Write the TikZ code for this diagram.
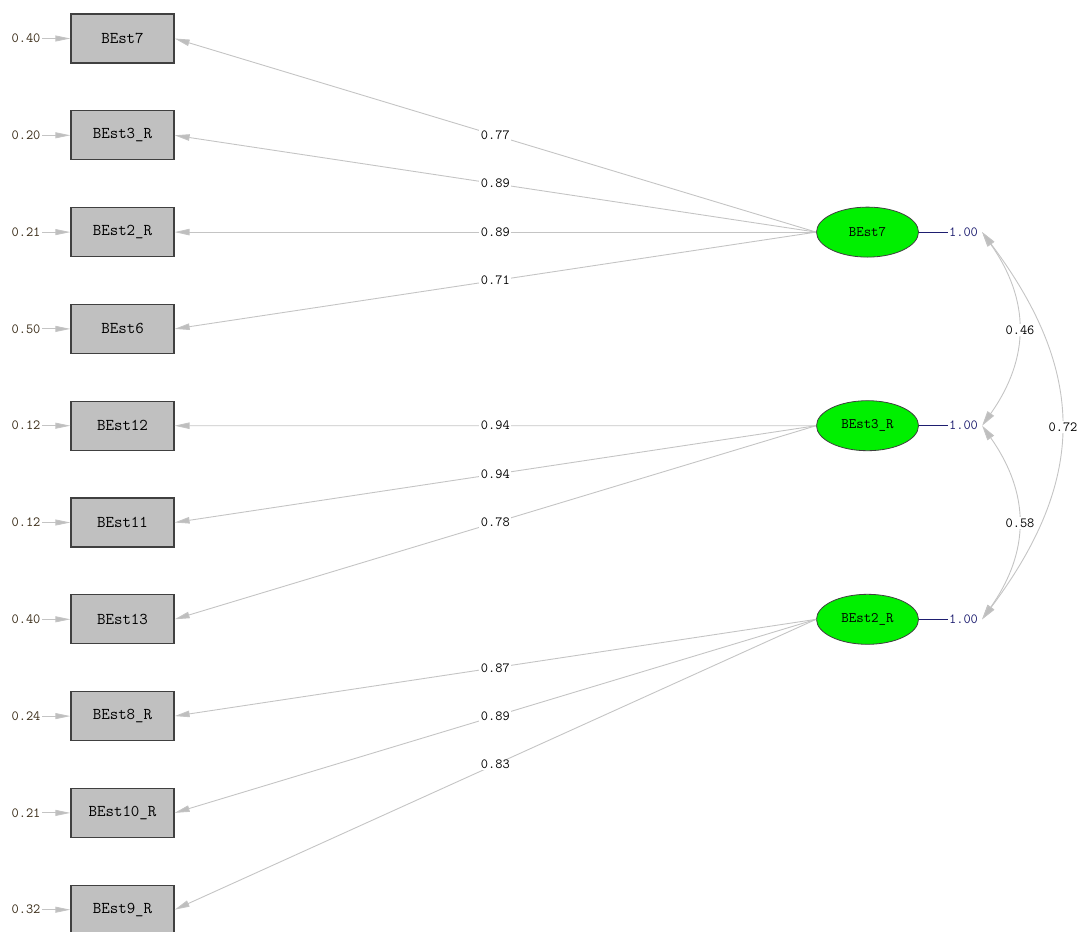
\documentclass[tikz,border=0pt]{standalone}
\usepackage{fontspec}
\usetikzlibrary{arrows.meta,shapes.geometric}
\definecolor{boxgray}{HTML}{C0C0C0}
\definecolor{edgegray}{HTML}{404040}
\definecolor{pathgray}{HTML}{C4C4C4}
\definecolor{tipgray}{HTML}{BEBEBE}
\definecolor{latgreen}{HTML}{00F000}
\definecolor{varnavy}{HTML}{1E1E70}
\definecolor{errbrown}{HTML}{3A2C18}
\tikzset{
  obsbox/.style={draw=edgegray, line width=1.3pt, fill=boxgray, minimum width=103pt,
    minimum height=49pt, inner sep=0pt, font=\ttfamily\fontsize{16.5}{18}\selectfont, text=black},
  latent/.style={ellipse, draw=edgegray, line width=0.8pt, fill=latgreen, minimum width=102pt,
    minimum height=50pt, inner sep=0pt, font=\ttfamily\fontsize{14.5}{16}\selectfont, text=black},
  errlab/.style={font=\ttfamily\fontsize{14}{16}\selectfont, text=errbrown, inner sep=1pt},
  coef/.style={font=\ttfamily\fontsize{14}{16}\selectfont, text=black, fill=white, inner sep=1.5pt},
  varlab/.style={font=\ttfamily\fontsize{14}{16}\selectfont, text=varnavy, inner sep=1pt, anchor=west},
  load/.style={draw=pathgray, line width=0.9pt, -{Triangle[length=15pt, width=6.5pt, fill=tipgray]}},
  errarrow/.style={draw=pathgray, line width=0.9pt, -{Triangle[length=15pt, width=6pt, fill=tipgray]}},
  cov/.style={draw=pathgray, line width=0.9pt,
    {Triangle[length=15pt, width=8pt, fill=tipgray]}-{Triangle[length=15pt, width=8pt, fill=tipgray]}},
  varline/.style={draw=varnavy, line width=0.9pt}
}
\begin{document}
\begin{tikzpicture}[x=1pt, y=-1pt]
\useasboundingbox (0,0) rectangle (1080,932);

% observed indicators with their error variances
\foreach \i/\name/\txt/\err in {
  1/b7/BEst7/0.40, 2/b3/BEst3\_R/0.20, 3/b2/BEst2\_R/0.21, 4/b6/BEst6/0.50,
  5/b12/BEst12/0.12, 6/b11/BEst11/0.12, 7/b13/BEst13/0.40, 8/b8/BEst8\_R/0.24,
  9/b10/BEst10\_R/0.21, 10/b9/BEst9\_R/0.32} {
  \pgfmathsetmacro{\yy}{38.5+(\i-1)*96.8}
  \node[obsbox] (\name) at (122.5,\yy) {\txt};
  \node[errlab] (e\name) at (26,\yy) {\err};
  \coordinate (s\name) at (42,\yy);
  \draw[errarrow] (s\name) -- (\name.west);
}

% latent factors
\node[latent] (F1) at (867.5,232.1) {BEst7};
\node[latent] (F2) at (867.5,425.7) {BEst3\_R};
\node[latent] (F3) at (867.5,619.3) {BEst2\_R};

% factor variances
\foreach \f in {F1,F2,F3} {
  \coordinate (v\f) at ([xshift=29pt]\f.east);
  \draw[varline] (\f.east) -- (v\f);
  \node[varlab] (l\f) at (v\f) {1.00};
  \coordinate (c\f) at ([xshift=3pt]l\f.east);
}

% factor loadings
\foreach \f/\b/\v in {F1/b7/0.77, F1/b3/0.89, F1/b2/0.89, F1/b6/0.71,
  F2/b12/0.94, F2/b11/0.94, F2/b13/0.78,
  F3/b8/0.87, F3/b10/0.89, F3/b9/0.83} {
  \draw[load] (\f.west) -- node[coef] {\v} (\b.east);
}

% factor covariances
\draw[cov] (cF1) .. controls ++(48,68) and ++(48,-68) .. (cF2);
\draw[cov] (cF2) .. controls ++(48,68) and ++(48,-68) .. (cF3);
\draw[cov] (cF1) .. controls ++(105,140) and ++(105,-140) .. (cF3);
\node[coef] (k12) at (1020,330) {0.46};
\node[coef] (k23) at (1020,523) {0.58};
\node[coef] (k13) at (1063,427) {0.72};
\end{tikzpicture}
\end{document}
